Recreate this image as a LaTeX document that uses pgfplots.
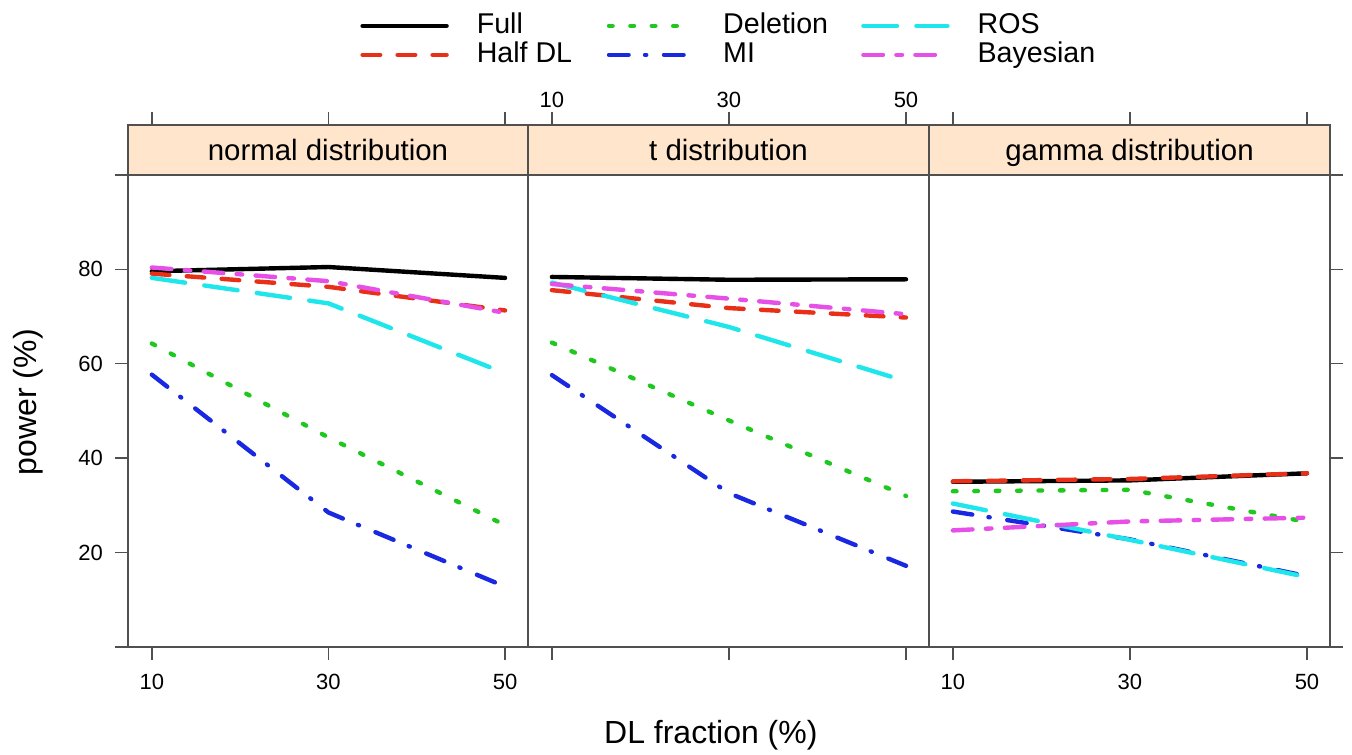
\documentclass[border=0pt]{standalone}
\usepackage{pgfplots}
\pgfplotsset{compat=1.18}
\usepackage{fontspec}
\setmainfont{Liberation Sans}
\definecolor{cRed}{RGB}{232,48,24}
\definecolor{cGreen}{RGB}{30,200,30}
\definecolor{cBlue}{RGB}{25,40,225}
\definecolor{cCyan}{RGB}{30,230,235}
\definecolor{cMag}{RGB}{230,80,230}
\definecolor{stripcol}{RGB}{255,229,204}
\definecolor{framecol}{RGB}{80,80,80}
\pgfplotsset{
  fullS/.style={black, solid, line width=2.2pt, line cap=round},
  halfS/.style={cRed, line width=2.2pt, line cap=round, dash pattern=on 8.8pt off 8.7pt},
  delS/.style={cGreen, line width=2.2pt, line cap=round, dash pattern=on 1.8pt off 8.9pt},
  miS/.style={cBlue, line width=2.2pt, line cap=round, dash pattern=on 9.8pt off 8.2pt on 0.6pt off 8.9pt},
  rosS/.style={cCyan, line width=2.2pt, line cap=round, dash pattern=on 16.8pt off 9.7pt},
  bayS/.style={cMag, line width=2.2pt, line cap=round, dash pattern=on 9.8pt off 6.7pt on 2.8pt off 6.7pt},
  panel/.style={
    scale only axis, width=200.5pt, height=261pt, anchor=south west,
    xmin=7.3, xmax=52.6, ymin=0, ymax=110.59,
    xtick={10,30,50}, ytick={0,20,40,60,80,100},
    yticklabels={,20,40,60,80,},
    tick align=outside, major tick length=6.5pt,
    xtick pos=both,
    axis on top, clip=false, no markers,
    axis line style={draw=framecol, line width=0.8pt},
    every tick/.style={framecol, line width=0.7pt},
    tick label style={font=\fontsize{11}{13}\selectfont},
    /pgf/number format/assume math mode=true,
    label style={font=\fontsize{16}{19}\selectfont},
  },
}
\newcommand{\strip}[1]{%
  \fill[stripcol] (rel axis cs:0,0.90424) rectangle (rel axis cs:1,1);
  \draw[framecol, line width=0.8pt] (rel axis cs:0,0.90424) -- (rel axis cs:1,0.90424);
  \node[font=\fontsize{14.7}{17}\selectfont, anchor=base, inner sep=0pt] at (rel axis cs:0.5,0.9315) {#1};
}
\begin{document}
\begin{tikzpicture}
\useasboundingbox (-64pt,-53.5pt) rectangle (612pt,323.5pt);
% ---------------- panel 1: normal
\begin{axis}[panel, at={(0pt,0pt)}, width=200pt,
  ytick pos=left, yticklabel pos=left, xticklabel pos=lower,
  yticklabel style={xshift=-2.5pt},
  xticklabel style={yshift=-3.5pt},
  ylabel={power (\%)},
  ylabel style={at={(axis description cs:-0.25,0.469)}, anchor=center},
  legend columns=3, legend cell align=left,
  legend image code/.code={\draw[#1] (0pt,0pt) -- (42pt,0pt);},
  legend style={draw=none, fill=none, at={(axis description cs:0.58,1.2165)}, anchor=north west,
    inner sep=0pt, font=\fontsize{14.3}{17}\selectfont,
    nodes={inner sep=0pt, text height=10.5pt, text depth=3pt},
    row sep=1pt,
    /tikz/every odd column/.append style={column sep=14pt}},
]
\strip{normal distribution}
\addplot[fullS, forget plot] coordinates {(10,79.6) (30,80.5) (50,78.2)};
\addplot[halfS, forget plot] coordinates {(10,79.1) (30,76.3) (50,71.3)};
\addplot[delS, forget plot] coordinates {(10,64.3) (30,44.4) (50,25.8)};
\addplot[miS, forget plot] coordinates {(10,57.7) (30,28.5) (50,12.8)};
\addplot[rosS, forget plot] coordinates {(10,78.2) (30,72.8) (50,58.0)};
\addplot[bayS, forget plot] coordinates {(10,80.4) (30,77.5) (50,70.8)};
\addlegendimage{fullS}\addlegendentry{\makebox[65pt][l]{Full}}
\addlegendimage{delS}\addlegendentry{\makebox[69pt][l]{Deletion}}
\addlegendimage{rosS}\addlegendentry{ROS}
\addlegendimage{halfS}\addlegendentry{\makebox[65pt][l]{Half DL}}
\addlegendimage{miS}\addlegendentry{\makebox[69pt][l]{MI}}
\addlegendimage{bayS}\addlegendentry{Bayesian}
\end{axis}
% ---------------- panel 2: t
\begin{axis}[panel, at={(200pt,0pt)},
  ytick=\empty, xticklabel pos=upper,
  xticklabel style={yshift=-1.5pt},
  xlabel={DL fraction (\%)},
  xlabel style={at={(axis description cs:0.456,-0.169)}, anchor=center},
]
\strip{t distribution}
\addplot[fullS] coordinates {(10,78.4) (30,77.8) (50,77.9)};
\addplot[halfS] coordinates {(10,75.6) (30,71.8) (50,69.8)};
\addplot[delS] coordinates {(10,64.5) (30,48.0) (50,32.0)};
\addplot[miS] coordinates {(10,57.6) (30,32.6) (50,17.2)};
\addplot[rosS] coordinates {(10,77.2) (30,67.8) (50,56.3)};
\addplot[bayS] coordinates {(10,76.9) (30,73.8) (50,70.5)};
\end{axis}
% ---------------- panel 3: gamma
\begin{axis}[panel, at={(400.5pt,0pt)},
  ytick pos=right, yticklabels={,,,,,}, xticklabel pos=lower,
  xticklabel style={yshift=-3.5pt},
]
\strip{gamma distribution}
\addplot[fullS] coordinates {(10,35.0) (30,35.3) (50,36.8)};
\addplot[halfS] coordinates {(10,35.1) (30,35.6) (50,36.8)};
\addplot[delS] coordinates {(10,33.0) (30,33.3) (50,26.5)};
\addplot[miS] coordinates {(10,28.7) (30,22.8) (50,15.0)};
\addplot[rosS] coordinates {(10,30.4) (30,22.7) (50,14.8)};
\addplot[bayS] coordinates {(10,24.7) (30,26.6) (50,27.4)};
\end{axis}
\end{tikzpicture}
\end{document}
